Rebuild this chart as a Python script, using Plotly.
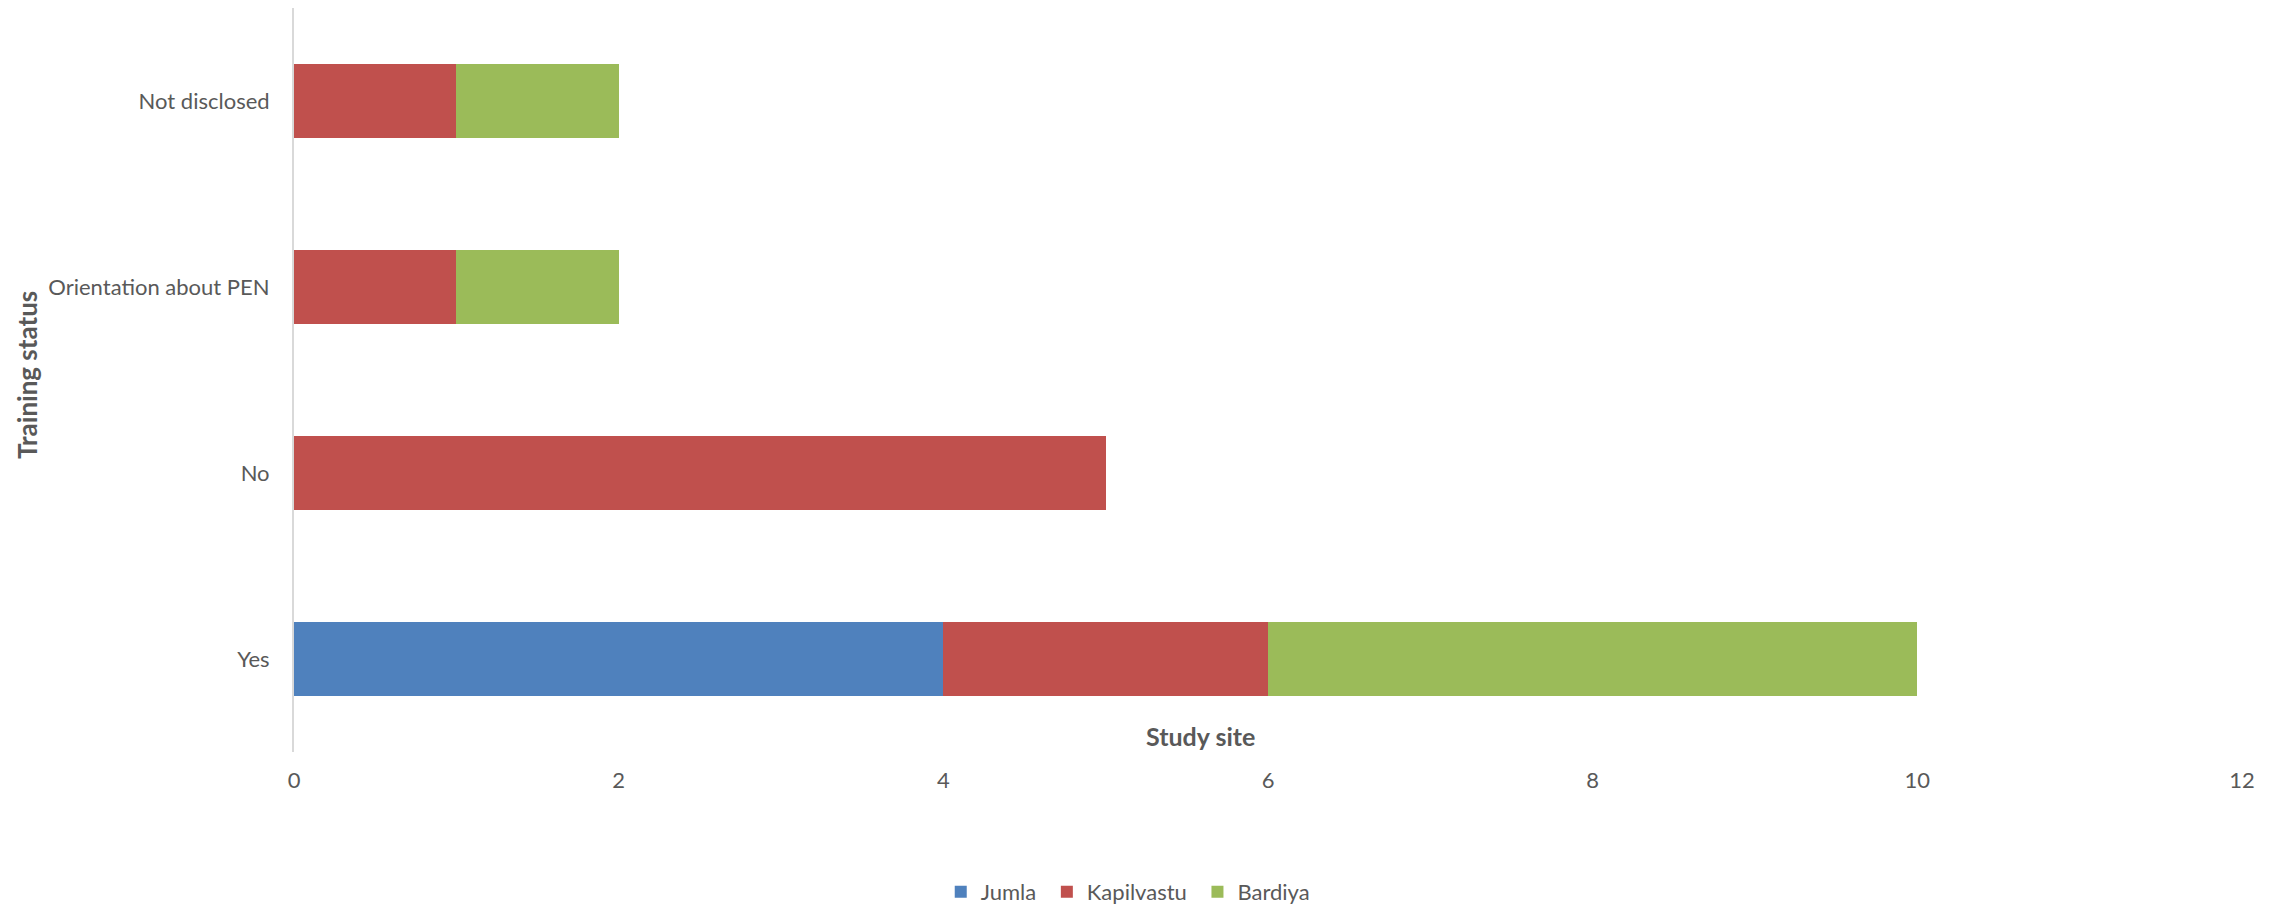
import plotly.graph_objects as go

categories = ["Yes", "No", "Orientation about PEN", "Not disclosed"]
jumla = [4, 0, 0, 0]
kapilvastu = [2, 5, 1, 1]
bardiya = [4, 0, 1, 1]

NB = "\u00a0" * 1
series = [("Jumla" + NB, jumla, "#4F81BD"), ("Kapilvastu" + NB, kapilvastu, "#C0504D"), ("Bardiya", bardiya, "#9BBB59")]

FONT = "Lato"
TXT = "#595959"

fig = go.Figure()
for name, vals, col in series:
    fig.add_trace(go.Bar(y=categories, x=vals, name=name, orientation="h",
                         marker=dict(color=col, line=dict(width=0))))

fig.update_layout(
    width=2280, height=904,
    barmode="stack", bargap=0.6,
    plot_bgcolor="white", paper_bgcolor="white",
    margin=dict(l=286, r=46, t=0, b=160, autoexpand=False),
    font=dict(family=FONT, size=22, color=TXT),
    showlegend=True,
    legend=dict(orientation="h", x=0.428, xanchor="center", y=-0.188, yanchor="middle",
                font=dict(family=FONT, size=22, color=TXT), itemwidth=30,
                traceorder="normal"),
    xaxis=dict(range=[0, 12], dtick=2, showgrid=False, zeroline=False, showline=False,
               ticks="", ticklabelstandoff=13, tickfont=dict(family=FONT, size=22, color=TXT)),
    yaxis=dict(categoryorder="array", categoryarray=categories, showgrid=False, zeroline=False,
               showline=True, linecolor="#D9D9D9", linewidth=2, ticks="",
               ticklabelstandoff=18, tickfont=dict(family=FONT, size=22, color=TXT)),
    annotations=[
        dict(text="<b>Study site</b>", xref="paper", yref="paper", x=0.4656, y=0.0215,
             xanchor="center", yanchor="middle", showarrow=False,
             font=dict(family=FONT, size=25, color=TXT)),
        dict(text="<b>Training status</b>", xref="paper", yref="paper", x=-0.137, y=0.507,
             xanchor="center", yanchor="middle", showarrow=False, textangle=-90,
             font=dict(family=FONT, size=26, color=TXT)),
    ],
)

fig.write_html("out.html")
